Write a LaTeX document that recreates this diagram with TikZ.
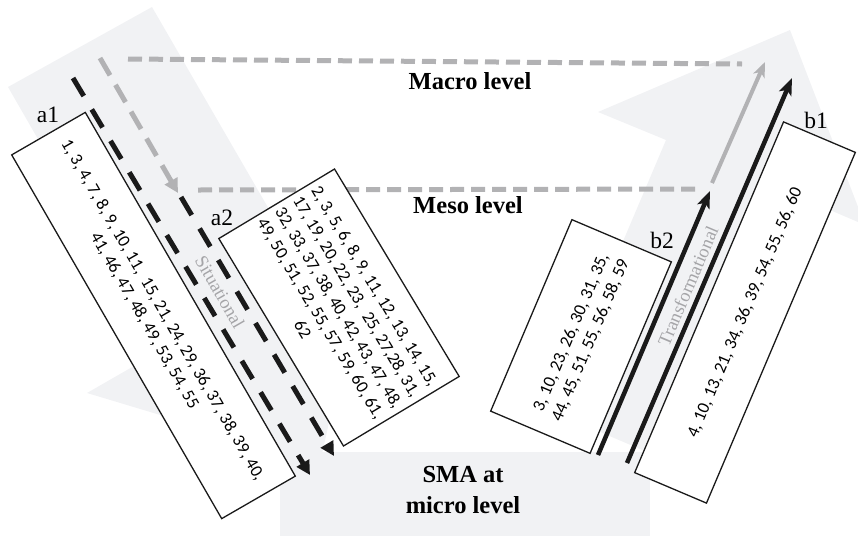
\documentclass[tikz,border=0pt]{standalone}
\usepackage{fontspec}
\setmainfont{Liberation Serif}
\newfontfamily\numfont{Carlito}
\usetikzlibrary{arrows.meta}
\definecolor{backfill}{RGB}{241,242,244}
\definecolor{lvlgray}{RGB}{178,178,180}
\definecolor{txtgray}{RGB}{165,165,168}
\definecolor{ink}{RGB}{26,26,26}
\tikzset{>={Triangle[width=14pt,length=14pt]}}

\begin{document}
\begin{tikzpicture}[x=1pt,y=-1pt]

\tikzstyle{idbox}=[draw=ink,line width=1.3pt,fill=white,inner sep=0pt,align=center,font=\numfont\fontsize{17.5}{21}\selectfont]
\tikzstyle{tag}=[inner sep=0pt,font=\fontsize{23.5}{28}\selectfont]
\tikzstyle{level}=[inner sep=0pt,align=center,font=\bfseries\fontsize{24.5}{31}\selectfont]
\tikzstyle{levelline}=[lvlgray,line width=5pt,dash pattern=on 14pt off 7pt]
\tikzstyle{sitblack}=[->,ink,line width=5pt,dash pattern=on 21pt off 15.6pt]
\tikzstyle{sitgray}=[->,lvlgray,line width=5pt,dash pattern=on 20pt off 11pt]
\tikzstyle{trblack}=[-{Stealth[length=17pt,width=13pt,inset=4pt]},ink,line width=4.5pt]
\tikzstyle{trgray}=[-{Stealth[length=15pt,width=12pt,inset=4pt]},lvlgray,line width=4pt]
\tikzstyle{note}=[inner sep=0pt,text=txtgray,font=\fontsize{18.5}{22}\selectfont]

\useasboundingbox (0,0) rectangle (858,536);

\fill[backfill] (8,87) -- (152,7) -- (303,268) -- (372,228) -- (320,463) -- (87,393) -- (160,351) -- cycle;
\fill[backfill] (790,30) -- (865,225) -- (797,196) -- (682,467) -- (551,411) -- (666,140) -- (598,112) -- cycle;
\fill[backfill] (280,452) rectangle (650,536);
\node[level] (micro) at (463,489.5) {SMA at\\micro level};

\coordinate (macroL) at (128,59);
\coordinate (macroR) at (742,64);
\coordinate (mesoL) at (198,190);
\coordinate (mesoR) at (700,189);
\draw[levelline] (macroL) -- (macroR);
\draw[levelline] (mesoL) -- (mesoR);
\node[level,anchor=base] (macro) at (470,89) {Macro level};
\node[level,anchor=base] (meso) at (468,213) {Meso level};

\node[idbox,rotate=-60,minimum width=420pt,minimum height=85pt] (a1) at (153.5,315.5)
  {1, 3, 4, 7, 8, 9, 10, 11,\ \ 15, 21, 24, 29, 36, 37, 38, 39, 40,\\41, 46, 47, 48, 49, 53, 54, 55};
\node[idbox,rotate=-59,minimum width=242pt,minimum height=135pt] (a2) at (339,307.5)
  {2, 3, 5, 6, 8, 9, 11, 12, 13, 14, 15,\\17, 19, 20, 22, 23,\ \ 25, 27,28, 31,\\32, 33, 37, 38, 40, 42, 43, 47, 48,\\49, 50, 51, 52, 55, 57, 59, 60, 61,\\62};
\node[idbox,rotate=67,minimum width=208pt,minimum height=108pt] (b2) at (581,336.5)
  {3, 10, 23, 26, 30, 31, 35,\\44, 45, 51, 55, 56, 58, 59};
\node[idbox,rotate=67,minimum width=381pt,minimum height=78pt] (b1) at (745,312.5)
  {4, 10, 13, 21, 34, 36, 39, 54, 55, 56, 60};

\node[tag] (a1lab) at (48,115) {a1};
\node[tag] (a2lab) at (222,218) {a2};
\node[tag] (b1lab) at (816,120) {b1};
\node[tag] (b2lab) at (662,240) {b2};

\coordinate (s1) at (73,78);
\coordinate (e1) at (310,475);
\coordinate (g0) at (100,58);
\coordinate (g1) at (178,193);
\coordinate (s2) at (181,197);
\coordinate (e2) at (334,456);
\draw[sitblack] (s1) -- (e1);
\draw[sitgray] (g0) -- (g1);
\draw[sitblack] (s2) -- (e2);
\node[note,rotate=-60] (sit) at (220,292) {Situational};

\coordinate (t1s) at (598,455);
\coordinate (t1e) at (710,191);
\coordinate (t2s) at (627,463);
\coordinate (t2e) at (792,78);
\coordinate (t3s) at (712,183);
\coordinate (t3e) at (765,62);
\draw[trblack] (t1s) -- (t1e);
\draw[trblack] (t2s) -- (t2e);
\draw[trgray] (t3s) -- (t3e);
\node[note,rotate=67] (trans) at (688,286) {Transformational};
\end{tikzpicture}
\end{document}
